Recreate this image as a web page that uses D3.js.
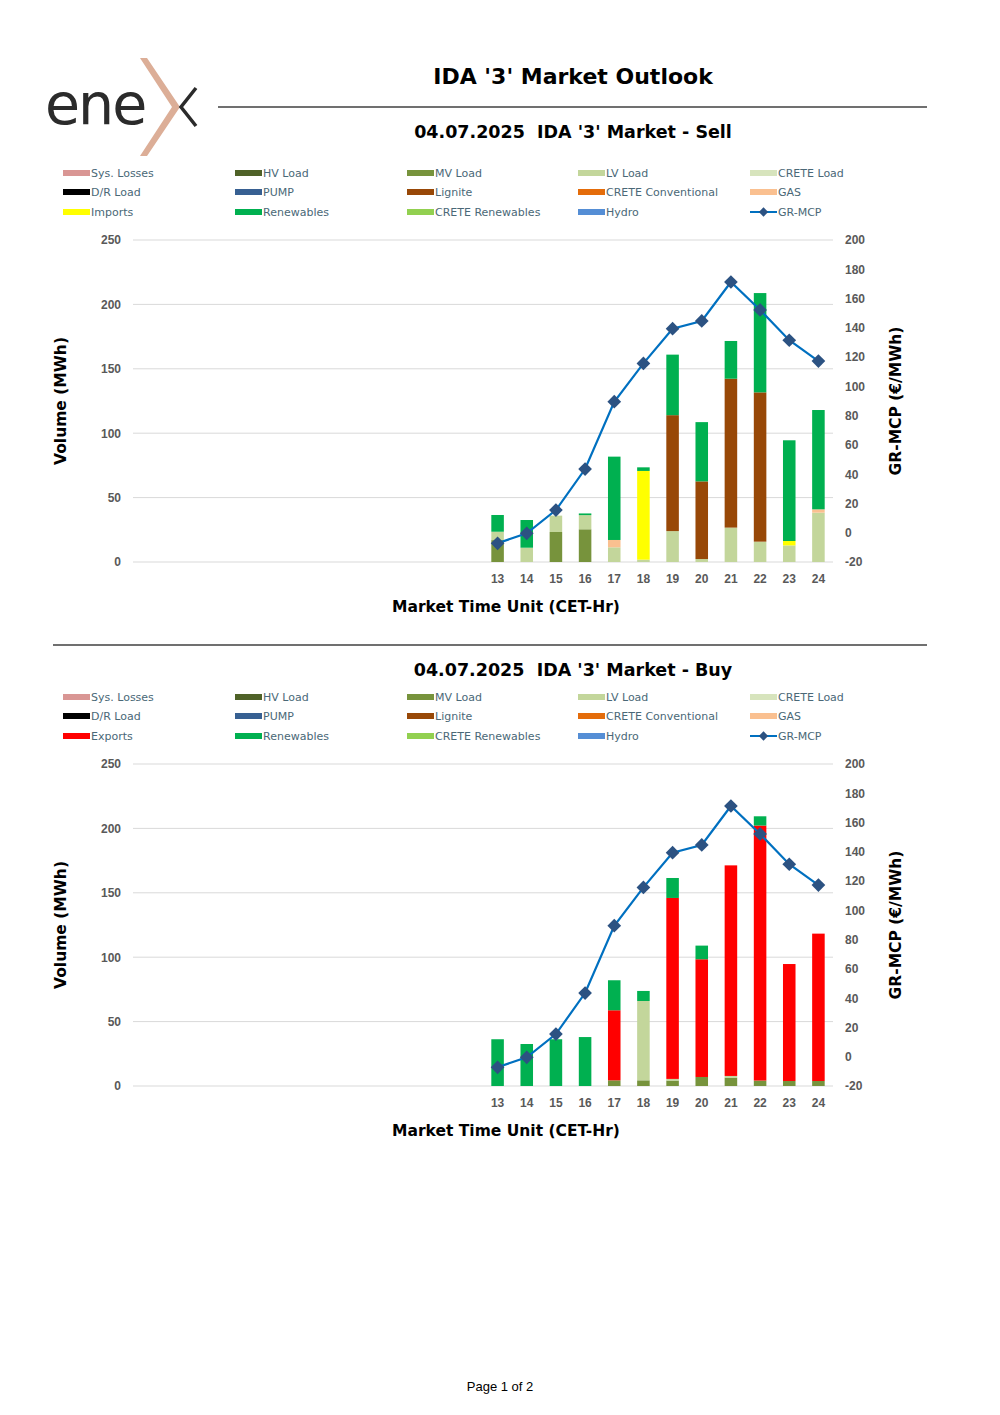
<!DOCTYPE html>
<html lang="en">
<head>
<meta charset="UTF-8">
<title>IDA '3' Market Outlook</title>
<script src="https://d3js.org/d3.v7.min.js"></script>
<style>
    body {
        margin: 0;
        padding: 0;
        background: #fff;
    }
    svg {
        display: block;
        font-family: 'DejaVu Sans', sans-serif;
    }
    .legend-item text {
        font-size: 11px;
        fill: #4a6877;
    }
    .tick-label {
        font-size: 12px;
        font-weight: 700;
        fill: #595959;
    }
    .axis-title {
        font-size: 15.5px;
        font-weight: 700;
        fill: #000;
    }
    .sub-title {
        font-size: 17.5px;
        font-weight: 700;
        white-space: pre;
    }
</style>
</head>
<body>
<svg id="page" width="1000" height="1415"></svg>
<script>
    // hours of the day (x categories) and their tick labels
    const hours = [1, 2, 3, 4, 5, 6, 7, 8, 9, 10, 11, 12, 13, 14, 15, 16, 17, 18, 19, 20, 21, 22, 23, 24];
    const hourLabels = ["", "", "", "", "", "", "", "", "", "", "", "", "13", "14", "15", "16", "17", "18", "19", "20", "21", "22", "23", "24"];
    // hours that carry data
    const dataHours = [13, 14, 15, 16, 17, 18, 19, 20, 21, 22, 23, 24];

    // GR-MCP price (€/MWh)
    const mcp = [-7.2, -0.4, 15.5, 43.5, 89.5, 115.7, 139.4, 144.7, 171.3, 152.2, 131.5, 117.3];

    // Sell side volumes (MWh)
    const sellMV = [17, 0, 23.3, 25.4, 0, 0, 0, 0, 0, 0, 0, 0];
    const sellLV = [6.5, 11.1, 12.7, 11, 11.4, 1.8, 24, 2.3, 26.7, 15.8, 12.9, 38.3];
    const sellLignite = [0, 0, 0, 0, 0, 0, 90, 60.3, 115.6, 115.9, 0, 0];
    const sellGas = [0, 0, 0, 0, 5.7, 0, 0, 0, 0, 0, 0, 2.6];
    const sellImports = [0, 0, 0, 0, 0, 68.9, 0, 0, 0, 0, 3.4, 0];
    const sellRenewables = [13, 21.5, 0, 1.3, 64.7, 2.8, 47, 46, 29.3, 77.1, 78.2, 77.1];

    // Buy side volumes (MWh)
    const buyMV = [0, 0, 0, 0, 4.4, 4.4, 4.2, 7, 6.5, 4.2, 3.9, 3.9];
    const buyLV = [0, 0, 0, 0, 0, 61.6, 1.3, 0, 1.3, 0, 0, 0];
    const buyExports = [0, 0, 0, 0, 54.4, 0, 140.5, 91.4, 163.5, 198, 90.8, 114.4];
    const buyRenewables = [36.3, 32.6, 36.3, 38, 23.3, 7.8, 15.5, 10.6, 0, 7.2, 0, 0];

    // axis ticks
    const volumeTicks = [0, 50, 100, 150, 200, 250];
    const priceTicks = [-20, 0, 20, 40, 60, 80, 100, 120, 140, 160, 180, 200];

    const colors = {
        "Sys. Losses": "#d99694",
        "HV Load": "#4f6228",
        "MV Load": "#77933c",
        "LV Load": "#c3d69b",
        "CRETE Load": "#d7e4bd",
        "D/R Load": "#000000",
        "PUMP": "#376092",
        "Lignite": "#984807",
        "CRETE Conventional": "#e46c0a",
        "GAS": "#fac090",
        "Imports": "#ffff00",
        "Exports": "#ff0000",
        "Renewables": "#00b050",
        "CRETE Renewables": "#92d050",
        "Hydro": "#558ed5"
    };

    const svg = d3.select("#page");

    // ---- logo ----
    const logo = svg.append("g");
    logo.append("text")
        .attr("x", 45).attr("y", 124)
        .style("font-family", "'DejaVu Sans', sans-serif")
        .style("font-size", "57px")
        .style("font-weight", "400")
        .style("letter-spacing", "-2px")
        .attr("fill", "#2b2b2b")
        .text("ene");
    logo.append("path")
        .attr("d", "M140,58 L147,58 L180,107 L147,156 L140,156 L172,107 Z")
        .attr("fill", "#dcae97");
    logo.append("path")
        .attr("d", "M196,88 L181,107 L196,126")
        .attr("fill", "none")
        .attr("stroke", "#2b2b2b")
        .attr("stroke-width", 3.5);

    // ---- page title ----
    svg.append("text")
        .attr("x", 573).attr("y", 84)
        .attr("text-anchor", "middle")
        .style("font-size", "22px").style("font-weight", "700")
        .text("IDA '3' Market Outlook");
    svg.append("line")
        .attr("x1", 218).attr("x2", 927).attr("y1", 107).attr("y2", 107)
        .attr("stroke", "#404040").attr("stroke-width", 1.3);
    svg.append("line")
        .attr("x1", 53).attr("x2", 927).attr("y1", 645).attr("y2", 645)
        .attr("stroke", "#404040").attr("stroke-width", 1.3);

    svg.append("text")
        .attr("x", 500).attr("y", 1391)
        .attr("text-anchor", "middle")
        .style("font-family", "'Liberation Sans', Arial, sans-serif")
        .style("font-size", "13px")
        .text("Page 1 of 2");

    function drawChart(top, titleY, title, flowName, series) {
        const g = svg.append("g").attr("transform", `translate(0,${top})`);

        g.append("text").attr("class", "sub-title")
            .attr("x", 573).attr("y", titleY)
            .attr("text-anchor", "middle")
            .text(title);

        // legend
        const legendRows = [
            ["Sys. Losses", "HV Load", "MV Load", "LV Load", "CRETE Load"],
            ["D/R Load", "PUMP", "Lignite", "CRETE Conventional", "GAS"],
            [flowName, "Renewables", "CRETE Renewables", "Hydro", "GR-MCP"]
        ];
        const colX = [63, 235, 407, 578, 750];
        const rowY = [173, 192, 212];
        legendRows.forEach((row, r) => {
            row.forEach((name, c) => {
                const item = g.append("g").attr("class", "legend-item")
                    .attr("transform", `translate(${colX[c]},${rowY[r]})`);
                if (name === "GR-MCP") {
                    item.append("line").attr("x1", 0).attr("x2", 27)
                        .attr("stroke", "#0070c0").attr("stroke-width", 2);
                    item.append("path").attr("d", d3.symbol(d3.symbolDiamond2, 55)())
                        .attr("transform", "translate(13.5,0)")
                        .attr("fill", "#2c5282");
                } else {
                    item.append("rect").attr("x", 0).attr("y", -3).attr("width", 27).attr("height", 6)
                        .attr("fill", colors[name]);
                }
                item.append("text").attr("x", 28).attr("y", 4).text(name);
            });
        });

        const x = d3.scaleBand().domain(hours).range([133, 833]).paddingInner(0.57).paddingOuter(0.285);
        const y = d3.scaleLinear().domain([0, 250]).range([562, 240]);
        const y2 = d3.scaleLinear().domain([-20, 200]).range([562, 240]);

        // gridlines
        g.append("g").selectAll("line").data(volumeTicks).join("line")
            .attr("x1", 133).attr("x2", 833)
            .attr("y1", d => y(d)).attr("y2", d => y(d))
            .attr("stroke", "#d9d9d9").attr("stroke-width", 1);

        // left axis
        const yAxis = g.append("g").attr("transform", "translate(133,0)")
            .call(d3.axisLeft(y).tickValues(volumeTicks).tickSize(0).tickPadding(12));
        yAxis.select(".domain").remove();
        yAxis.selectAll("text").attr("class", "tick-label");

        // right axis
        const y2Axis = g.append("g").attr("transform", "translate(833,0)")
            .call(d3.axisRight(y2).tickValues(priceTicks).tickSize(0).tickPadding(12).tickFormat(d => String(d)));
        y2Axis.select(".domain").remove();
        y2Axis.selectAll("text").attr("class", "tick-label").attr("text-anchor", "start");

        // x axis
        const xAxis = g.append("g").attr("transform", "translate(0,562)")
            .call(d3.axisBottom(x).tickSize(0).tickPadding(12).tickFormat((d, i) => hourLabels[i]));
        xAxis.select(".domain").remove();
        xAxis.selectAll("text").attr("class", "tick-label");

        // stacked bars
        const keys = Object.keys(series);
        const rows = dataHours.map((h, i) => {
            const row = { hour: h };
            keys.forEach(k => row[k] = series[k][i]);
            return row;
        });
        const stack = d3.stack().keys(keys)(rows);
        g.append("g").selectAll("g").data(stack).join("g")
            .attr("fill", d => colors[d.key])
            .selectAll("rect").data(d => d.filter(p => p[1] - p[0] > 0)).join("rect")
            .attr("x", d => x(d.data.hour))
            .attr("width", x.bandwidth())
            .attr("y", d => y(d[1]))
            .attr("height", d => y(d[0]) - y(d[1]));

        // GR-MCP line
        const pts = dataHours.map((h, i) => [x(h) + x.bandwidth() / 2, y2(mcp[i])]);
        g.append("path")
            .attr("d", d3.line()(pts))
            .attr("fill", "none")
            .attr("stroke", "#0070c0")
            .attr("stroke-width", 2.2);
        g.append("g").selectAll("path").data(pts).join("path")
            .attr("d", d3.symbol(d3.symbolDiamond2, 120)())
            .attr("transform", d => `translate(${d[0]},${d[1]})`)
            .attr("fill", "#2c5282");

        // axis titles
        g.append("text").attr("class", "axis-title")
            .attr("transform", "translate(66,401) rotate(-90)")
            .attr("text-anchor", "middle")
            .text("Volume (MWh)");
        g.append("text").attr("class", "axis-title")
            .attr("transform", "translate(901,401) rotate(-90)")
            .attr("text-anchor", "middle")
            .text("GR-MCP (€/MWh)");
        g.append("text").attr("class", "axis-title")
            .attr("x", 506).attr("y", 612)
            .attr("text-anchor", "middle")
            .text("Market Time Unit (CET-Hr)");
    }

    drawChart(0, 138, "04.07.2025  IDA '3' Market - Sell", "Imports", {
        "MV Load": sellMV,
        "LV Load": sellLV,
        "Lignite": sellLignite,
        "GAS": sellGas,
        "Imports": sellImports,
        "Renewables": sellRenewables
    });

    drawChart(524, 152, "04.07.2025  IDA '3' Market - Buy", "Exports", {
        "MV Load": buyMV,
        "LV Load": buyLV,
        "Exports": buyExports,
        "Renewables": buyRenewables
    });
</script>
</body>
</html>
